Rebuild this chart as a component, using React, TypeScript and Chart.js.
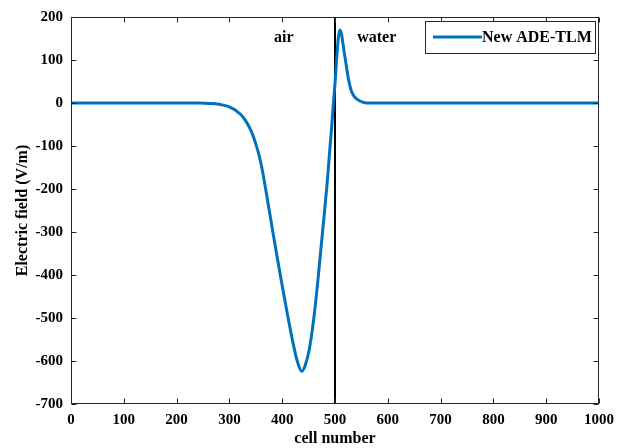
import React, { useEffect, useRef } from 'react';
import { Chart, registerables } from 'chart.js';

Chart.register(...registerables);

// ---- data ----
const cellX = [0, 100, 200, 240, 260, 280, 300, 320, 330, 340, 345, 350, 355, 360, 365, 370, 380, 390, 400, 410, 420, 428, 437, 443, 451, 460, 467, 473, 479, 485, 490, 494, 497, 500, 503, 506, 509, 512, 516, 522, 526, 531, 537, 544, 552, 560, 600, 800, 1000];
const fieldE = [0, 0, 0, 0, -1, -3, -9, -25, -40, -62, -77, -95, -116, -142, -174, -210, -283, -355, -425, -492, -555, -598, -624, -612, -575, -499, -420, -343, -267, -188, -111, -50, 0, 45, 100, 148, 170, 162, 130, 82, 52, 28, 14, 7, 2, 0, 0, 0, 0];
const interfaceX = [500, 500];
const interfaceY = [-700, 200];
const xTicks = [0, 100, 200, 300, 400, 500, 600, 700, 800, 900, 1000];
const yTicks = [-700, -600, -500, -400, -300, -200, -100, 0, 100, 200];
const seriesLabel = 'New ADE-TLM';
const regionLabels = ['air', 'water'];
const regionLabelX = [403, 579];
const regionLabelY = [151, 151];
const xTitle = 'cell number';
const yTitle = 'Electric field (V/m)';

const FONT = '"Liberation Serif", "Times New Roman", serif';
const AXIS = '#262626';
const BLUE = '#0072BD';

const framePlugin = {
  id: 'frame',
  afterDatasetsDraw(chart: any) {
    const { ctx, chartArea: a, scales } = chart;
    const x = scales.x;
    const y = scales.y;
    ctx.save();
    // region labels
    ctx.font = `bold 16px ${FONT}`;
    ctx.fillStyle = '#000';
    ctx.textAlign = 'center';
    ctx.textBaseline = 'middle';
    regionLabels.forEach((t, i) => {
      ctx.fillText(t, x.getPixelForValue(regionLabelX[i]), y.getPixelForValue(regionLabelY[i]));
    });
    // box
    ctx.strokeStyle = AXIS;
    ctx.lineWidth = 1;
    const L = Math.round(a.left) + 0.5;
    const R = Math.round(a.right) - 0.5;
    const T = Math.round(a.top) + 0.5;
    const B = Math.round(a.bottom) - 0.5;
    ctx.strokeRect(L, T, R - L, B - T);
    // inward ticks
    const tl = 5;
    ctx.beginPath();
    xTicks.forEach((v) => {
      const px = Math.round(x.getPixelForValue(v)) + 0.5;
      ctx.moveTo(px, B);
      ctx.lineTo(px, B - tl);
      ctx.moveTo(px, T);
      ctx.lineTo(px, T + tl);
    });
    yTicks.forEach((v) => {
      const py = Math.round(y.getPixelForValue(v)) + 0.5;
      ctx.moveTo(L, py);
      ctx.lineTo(L + tl, py);
      ctx.moveTo(R, py);
      ctx.lineTo(R - tl, py);
    });
    ctx.stroke();
    // legend
    const bw = 170;
    const bh = 32;
    const bx = Math.round(a.right) - 4 - bw;
    const by = Math.round(a.top) + 4;
    ctx.fillStyle = '#fff';
    ctx.fillRect(bx, by, bw, bh);
    ctx.strokeStyle = AXIS;
    ctx.strokeRect(bx + 0.5, by + 0.5, bw, bh);
    const my = by + bh / 2;
    ctx.strokeStyle = BLUE;
    ctx.lineWidth = 3;
    ctx.beginPath();
    ctx.moveTo(bx + 8, my);
    ctx.lineTo(bx + 57, my);
    ctx.stroke();
    ctx.fillStyle = '#000';
    ctx.font = `bold 16px ${FONT}`;
    ctx.textAlign = 'left';
    ctx.textBaseline = 'middle';
    ctx.fillText(seriesLabel, bx + 57, my + 1);
    ctx.restore();
  },
};

export default function App() {
  const ref = useRef<HTMLCanvasElement | null>(null);

  useEffect(() => {
    if (!ref.current) return;
    const curve = cellX.map((v, i) => ({ x: v, y: fieldE[i] }));
    const iface = interfaceX.map((v, i) => ({ x: v, y: interfaceY[i] }));
    const chart = new Chart(ref.current, {
      type: 'line',
      data: {
        datasets: [
          {
            label: seriesLabel,
            data: curve,
            borderColor: BLUE,
            borderWidth: 3,
            pointRadius: 0,
            cubicInterpolationMode: 'monotone',
            fill: false,
          },
          {
            label: 'interface',
            data: iface,
            borderColor: '#000',
            borderWidth: 2,
            pointRadius: 0,
            fill: false,
          },
        ],
      },
      options: {
        animation: false,
        responsive: true,
        maintainAspectRatio: false,
        layout: { padding: { left: 0, top: 16, right: 26, bottom: 0 } },
        plugins: {
          legend: { display: false },
          tooltip: { enabled: false },
        },
        scales: {
          x: {
            type: 'linear',
            min: 0,
            max: 1000,
            afterFit: (s: any) => {
              s.height = 44;
            },
            afterBuildTicks: (s: any) => {
              s.ticks = xTicks.map((v) => ({ value: v }));
            },
            ticks: {
              color: '#000',
              font: { family: FONT, size: 15, weight: 'bold' },
              padding: 7,
              maxRotation: 0,
              autoSkip: false,
              callback: (v: any) => String(v),
            },
            grid: { display: false, drawTicks: false },
            border: { display: false },
            title: {
              display: true,
              text: xTitle,
              color: '#000',
              font: { family: FONT, size: 16, weight: 'bold' },
              padding: { top: 0, bottom: 0 },
            },
          },
          y: {
            type: 'linear',
            min: -700,
            max: 200,
            afterFit: (s: any) => {
              s.width = 71;
            },
            afterBuildTicks: (s: any) => {
              s.ticks = yTicks.map((v) => ({ value: v }));
            },
            ticks: {
              color: '#000',
              font: { family: FONT, size: 15, weight: 'bold' },
              padding: 8,
              autoSkip: false,
              callback: (v: any) => String(v),
            },
            grid: { display: false, drawTicks: false },
            border: { display: false },
            title: {
              display: true,
              text: yTitle,
              color: '#000',
              font: { family: FONT, size: 16, weight: 'bold' },
              padding: { top: 13, bottom: 0 },
            },
          },
        },
      },
      plugins: [framePlugin],
    } as any);
    return () => chart.destroy();
  }, []);

  return (
    <div style={{ position: 'fixed', left: 0, top: 0, width: 625, height: 448, background: '#fff' }}>
      <canvas ref={ref} />
    </div>
  );
}
